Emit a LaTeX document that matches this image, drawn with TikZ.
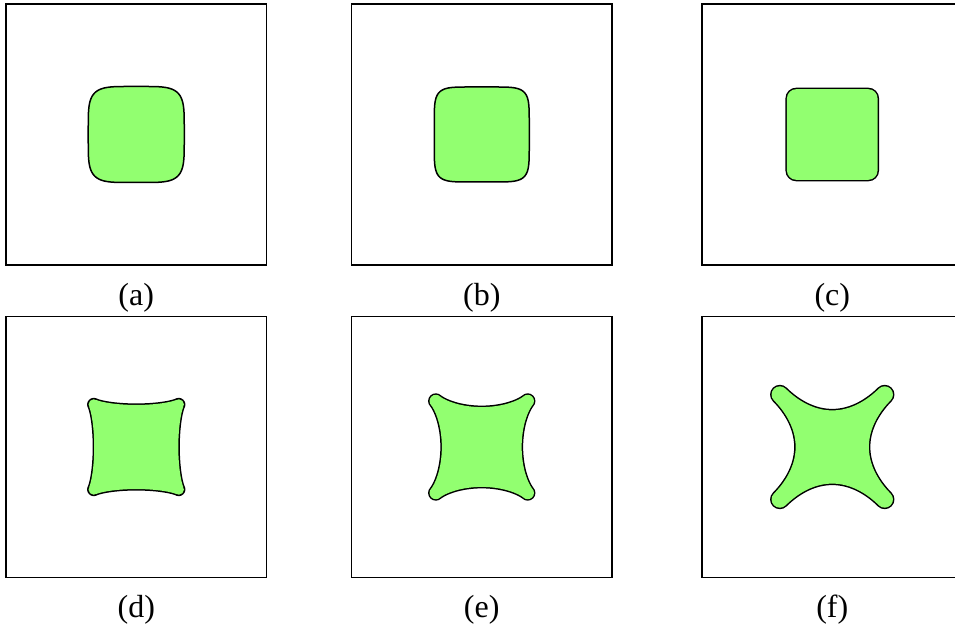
\documentclass[tikz,border=0pt]{standalone}
\usepackage{fontspec}
\setmainfont{Liberation Serif}
\usepackage{xcolor}
\usepackage{tikz}
\usetikzlibrary{positioning}

\definecolor{shapegreen}{RGB}{146,255,112}

% rounded star: centre, tip radius, exponent, corner radius
\newcommand{\roundstar}[4]{%
  \begin{scope}[shift={(#1)}, rotate=45]
    \draw[line width={2*#4pt+1.5pt}, line join=round]
      plot[domain=0.5:360.5, samples=361]
      ({#2*sign(cos(\x))*abs(cos(\x))^(2/#3)}, {#2*sign(sin(\x))*abs(sin(\x))^(2/#3)}) -- cycle;
    \path[fill=shapegreen, draw=shapegreen, line width={2*#4pt-1.5pt}, line join=round]
      plot[domain=0.5:360.5, samples=361]
      ({#2*sign(cos(\x))*abs(cos(\x))^(2/#3)}, {#2*sign(sin(\x))*abs(sin(\x))^(2/#3)}) -- cycle;
  \end{scope}}

% superellipse: centre, half width, exponent
\newcommand{\cushion}[3]{%
  \draw[shift={(#1)}, fill=shapegreen, line width=1.5pt]
    plot[domain=0.5:360.5, samples=361]
    ({#2*sign(cos(\x))*abs(cos(\x))^(2/#3)}, {#2*sign(sin(\x))*abs(sin(\x))^(2/#3)}) -- cycle;}

\begin{document}
\begin{tikzpicture}[
    x=1pt, y=1pt,
    panel/.style={rectangle, draw, line width=1.3pt, minimum width=260.5pt, minimum height=261pt, inner sep=0pt, outer sep=0pt},
    caption/.style={inner sep=0pt, font=\fontsize{32}{38}\selectfont}
]
\useasboundingbox (0,0) rectangle (955,628);

% Top row
\node[panel] (box_a) at (136.25, 493.5) {};
\node[panel] (box_b) at (481.75, 493.5) {};
\node[panel] (box_c) at (832.25, 493.5) {};

% Bottom row
\node[panel] (box_d) at (136.25, 181) {};
\node[panel] (box_e) at (481.75, 181) {};
\node[panel] (box_f) at (832.25, 181) {};

% Captions
\node[caption, below=18pt of box_a] (lbl_a) {(a)};
\node[caption, below=18pt of box_b] (lbl_b) {(b)};
\node[caption, below=18pt of box_c] (lbl_c) {(c)};
\node[caption, below=17.5pt of box_d] (lbl_d) {(d)};
\node[caption, below=17.5pt of box_e] (lbl_e) {(e)};
\node[caption, below=17.5pt of box_f] (lbl_f) {(f)};

% Shapes
\cushion{box_a.center}{48}{4.8}
\cushion{box_b.center}{47.5}{6}
\roundstar{box_c.center}{51}{1}{10}
\roundstar{box_d.center}{60}{0.83}{6}
\roundstar{box_e.center}{65}{0.69}{7}
\roundstar{box_f.center}{74.2}{0.53}{9}

\end{tikzpicture}
\end{document}
